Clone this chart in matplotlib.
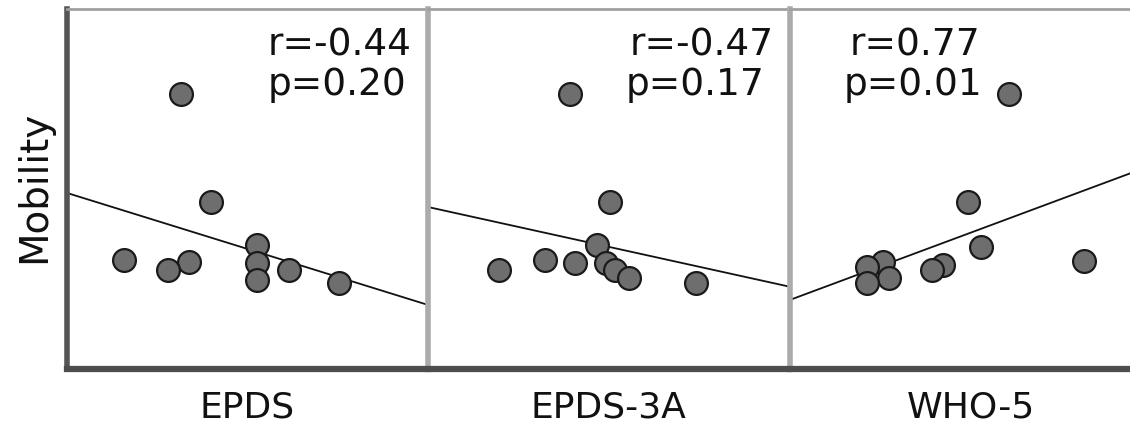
import matplotlib.pyplot as plt

# panel names and stats text
panels = ['EPDS', 'EPDS-3A', 'WHO-5']
r_text = ['r=-0.44', 'r=-0.47', 'r=0.77']
p_text = ['p=0.20', 'p=0.17', 'p=0.01']

# scatter values (x: score, y: mobility)
epds_x = [3.17, 4.00, 5.25, 1.58, 3.39, 5.25, 2.81, 6.14, 5.25, 7.53]
epds_y = [7.64, 4.64, 3.44, 3.03, 2.97, 2.94, 2.75, 2.75, 2.47, 2.39]
epds3a_x = [3.92, 5.03, 4.69, 3.25, 4.08, 4.92, 1.97, 5.19, 5.56, 7.42]
epds3a_y = [7.64, 4.64, 3.44, 3.03, 2.94, 2.94, 2.75, 2.75, 2.53, 2.39]
who5_x = [6.06, 4.94, 5.28, 8.14, 2.58, 4.25, 2.14, 3.94, 2.75, 2.14]
who5_y = [7.64, 4.64, 3.39, 3.00, 2.97, 2.89, 2.83, 2.75, 2.53, 2.39]

# fitted line: y at x=0 and x=10
fit_y0 = [4.89, 4.50, 1.92]
fit_y1 = [1.78, 2.29, 5.65]

# stats text anchor (right edge x, baseline y of r line, baseline y of p line)
text_x_r = [9.53, 9.58, 5.28]
text_x_p = [9.39, 9.31, 5.33]
text_y_r = 8.72
text_y_p = 7.61

xs = [epds_x, epds3a_x, who5_x]
ys = [epds_y, epds3a_y, who5_y]

W, H = 1130, 428
fig = plt.figure(figsize=(W / 100, H / 100), dpi=100)

lefts = [67, 428, 790]
for i in range(3):
    ax = fig.add_axes([lefts[i] / W, (H - 369) / H, 361 / W, 360 / H])
    ax.set_xlim(0, 10)
    ax.set_ylim(0, 10)
    ax.scatter(xs[i], ys[i], s=270, c='#6e6e6e', edgecolors='#1a1a1a', linewidths=1.6, zorder=3)
    ax.plot([0, 10], [fit_y0[i], fit_y1[i]], color='#111111', lw=1.3, zorder=2)
    ax.text(text_x_r[i], text_y_r, r_text[i], ha='right', va='baseline', fontsize=27, color='#111111')
    ax.text(text_x_p[i], text_y_p, p_text[i], ha='right', va='baseline', fontsize=27, color='#111111')
    ax.text(0.5, -0.136, panels[i], transform=ax.transAxes, ha='center', va='baseline',
            fontsize=26, color='#111111')
    ax.set_xticks([])
    ax.set_yticks([])
    ax.spines['top'].set_color('#a0a0a0')
    ax.spines['top'].set_linewidth(2)
    ax.spines['right'].set_visible(False)
    ax.spines['bottom'].set_color('#4d4d4d')
    ax.spines['bottom'].set_linewidth(4.5)
    if i == 0:
        ax.spines['left'].set_color('#555555')
        ax.spines['left'].set_linewidth(4)
    else:
        ax.spines['left'].set_color('#ababab')
        ax.spines['left'].set_linewidth(4)

fig.text(53 / W, 1 - 187 / H, 'Mobility', rotation=90, ha='right', va='center',
         fontsize=28, color='#111111')

fig.savefig('out.png', dpi=100)
